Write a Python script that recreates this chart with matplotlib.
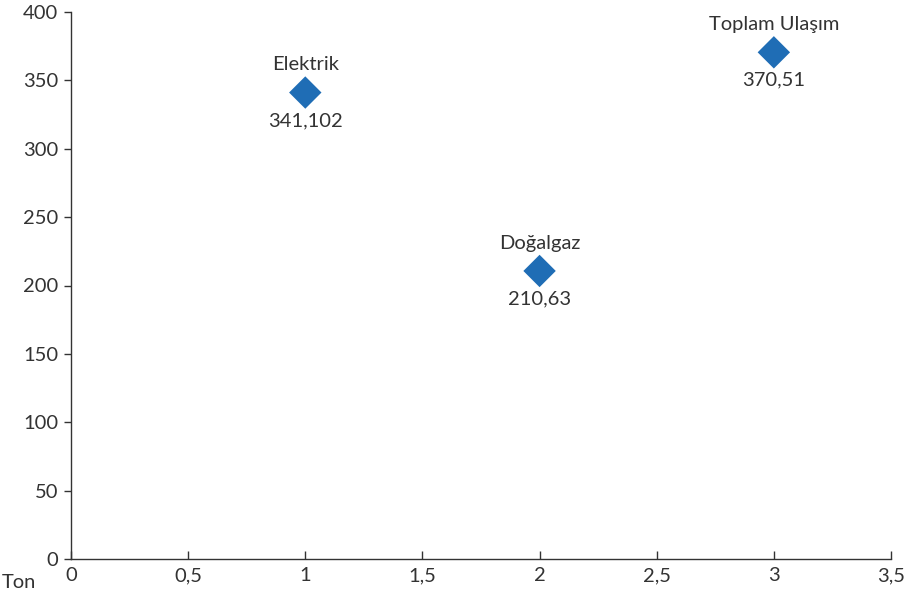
import matplotlib
matplotlib.use("Agg")
import matplotlib.pyplot as plt
from matplotlib.ticker import FixedLocator, FuncFormatter

plt.rcParams['font.family'] = ['Lato', 'DejaVu Sans']

# Emission sources: position on x axis, value in tonnes
names = ["Elektrik", "Doğalgaz", "Toplam Ulaşım"]
x_pos = [1, 2, 3]
values = [341.102, 210.63, 370.51]
value_labels = ["341,102", "210,63", "370,51"]

x_ticks = [0, 0.5, 1, 1.5, 2, 2.5, 3, 3.5]
y_ticks = [0, 50, 100, 150, 200, 250, 300, 350, 400]

text_color = "#333333"
marker_color = "#1f6db5"

fig = plt.figure(figsize=(9.16, 5.96), dpi=100)
ax = fig.add_axes([71 / 916, 1 - 559 / 596, (891 - 71) / 916, (559 - 12) / 596])

ax.scatter(x_pos, values, marker="D", s=16.5 ** 2, color=marker_color,
           edgecolors="none", zorder=3)

for x, y, name, lab in zip(x_pos, values, names, value_labels):
    ax.annotate(name, (x, y), xytext=(0, 14), textcoords="offset points",
                ha="center", va="bottom", fontsize=14.5, color=text_color)
    ax.annotate(lab, (x, y), xytext=(0, -14), textcoords="offset points",
                ha="center", va="top", fontsize=14.5, color=text_color)

ax.set_xlim(0, 3.5)
ax.set_ylim(0, 400)

fmt = FuncFormatter(lambda v, p: ("%g" % v).replace(".", ","))
ax.xaxis.set_major_locator(FixedLocator(x_ticks))
ax.yaxis.set_major_locator(FixedLocator(y_ticks))
ax.xaxis.set_major_formatter(fmt)
ax.yaxis.set_major_formatter(fmt)

for side in ("top", "right"):
    ax.spines[side].set_visible(False)
for side in ("left", "bottom"):
    ax.spines[side].set_color("#333333")
    ax.spines[side].set_linewidth(1.0)

ax.tick_params(axis="x", direction="in", length=6, width=1, colors="#333333",
               labelcolor=text_color, labelsize=14.5, pad=6)
ax.tick_params(axis="y", direction="out", length=5, width=1, colors="#333333",
               labelcolor=text_color, labelsize=14.5, pad=4)

fig.text(19 / 916, 1 - 583 / 596, "Ton", ha="center", va="center",
         fontsize=14.5, color=text_color)

fig.savefig("out.png", dpi=100)
